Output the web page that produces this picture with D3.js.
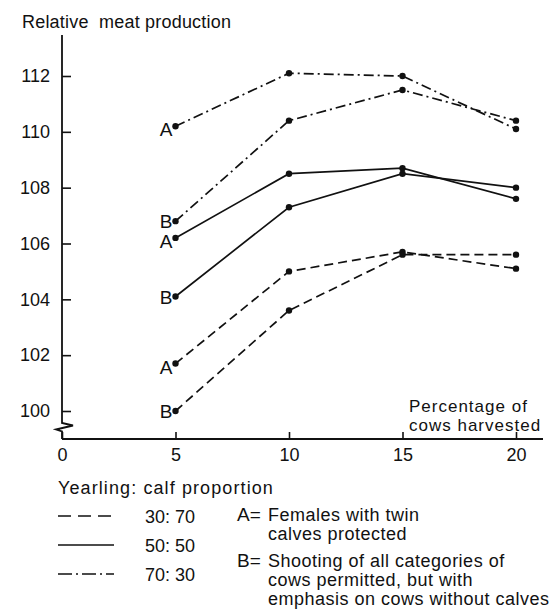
<!DOCTYPE html>
<html>
<head>
<meta charset="utf-8">
<script src="https://cdn.jsdelivr.net/npm/d3@7/dist/d3.min.js"></script>
<style>
  html, body { margin: 0; padding: 0; background: #fff; }
  svg { display: block; }
  text { font-family: "Liberation Sans", Arial, sans-serif; fill: #111; }
</style>
</head>
<body>
<svg id="chart" width="553" height="610"></svg>
<script>
// Percentage of cows harvested
const harvestPct = [5, 10, 15, 20];

// Relative meat production per strategy and yearling:calf proportion
const dashDotA = [110.2, 112.1, 112.0, 110.1];
const dashDotB = [106.8, 110.4, 111.5, 110.4];
const solidA   = [106.2, 108.5, 108.7, 107.6];
const solidB   = [104.1, 107.3, 108.5, 108.0];
const dashedA  = [101.7, 105.0, 105.7, 105.1];
const dashedB  = [100.0, 103.6, 105.6, 105.6];

const yTicks = [100, 102, 104, 106, 108, 110, 112];
const xTicks = [0, 5, 10, 15, 20];

const proportionLabels = ["30: 70", "50: 50", "70: 30"];
const strategyNotes = [
  ["A=", "Females with twin", "calves protected"],
  ["B=", "Shooting of all categories of", "cows permitted, but with", "emphasis on cows without calves"]
];

const dashStyles = { dashed: "9,5", solid: null, dashdot: "10,4,2,4" };

const series = [
  { key: "A", style: "dashdot", values: dashDotA },
  { key: "B", style: "dashdot", values: dashDotB },
  { key: "A", style: "solid",   values: solidA },
  { key: "B", style: "solid",   values: solidB },
  { key: "A", style: "dashed",  values: dashedA },
  { key: "B", style: "dashed",  values: dashedB }
];

const svg = d3.select("#chart");
const ink = "#111";

const x = d3.scaleLinear().domain([0, 20]).range([62, 516]);
const y = d3.scaleLinear().domain([100, 112]).range([411, 76]);
const axisY = 439;

// Y axis title
svg.append("text")
  .attr("x", 22).attr("y", 28)
  .attr("font-size", 18)
  .attr("letter-spacing", 0.2)
  .attr("xml:space", "preserve")
  .text("Relative  meat production");

// Y axis: ticks point inward, labels on the left
const yAxisG = svg.append("g").attr("transform", `translate(${x(0)},0)`)
  .call(d3.axisLeft(y).tickValues(yTicks).tickSizeInner(-9).tickSizeOuter(0).tickPadding(12));
yAxisG.select(".domain").remove();
yAxisG.selectAll(".tick line").attr("stroke", ink).attr("stroke-width", 1.6);
yAxisG.selectAll(".tick text").attr("font-size", 18).attr("font-family", "Liberation Sans, Arial, sans-serif").attr("fill", ink);

// Vertical axis line with a scale break above the origin
const x0 = x(0);
svg.append("path")
  .attr("d", `M${x0},35 L${x0},423 L${x0 + 11},425.5 L${x0 - 6},429.5 L${x0},431.5 L${x0},${axisY}`)
  .attr("fill", "none").attr("stroke", ink).attr("stroke-width", 1.8)
  .attr("stroke-linejoin", "miter");

// X axis: ticks point upward, labels below
const xAxisG = svg.append("g").attr("transform", `translate(0,${axisY})`)
  .call(d3.axisBottom(x).tickValues(xTicks).tickSizeInner(-7).tickSizeOuter(0).tickPadding(9).tickFormat(d3.format("d")));
xAxisG.select(".domain").remove();
xAxisG.selectAll(".tick line").attr("stroke", ink).attr("stroke-width", 1.6);
xAxisG.selectAll(".tick text").attr("font-size", 18).attr("font-family", "Liberation Sans, Arial, sans-serif").attr("fill", ink);

svg.append("line")
  .attr("x1", x0).attr("x2", 543).attr("y1", axisY).attr("y2", axisY)
  .attr("stroke", ink).attr("stroke-width", 1.8);

// X axis title
svg.append("text").attr("x", 409).attr("y", 412).attr("font-size", 17).attr("letter-spacing", 1.0).text("Percentage of");
svg.append("text").attr("x", 409).attr("y", 431).attr("font-size", 17).attr("letter-spacing", 1.0).text("cows harvested");

// Series lines and markers
const line = d3.line().x((d, i) => x(harvestPct[i])).y(d => y(d));

const sg = svg.selectAll("g.series").data(series).join("g").attr("class", "series");
sg.append("path")
  .attr("d", d => line(d.values))
  .attr("fill", "none")
  .attr("stroke", ink)
  .attr("stroke-width", 1.7)
  .attr("stroke-dasharray", d => dashStyles[d.style]);
sg.selectAll("circle").data(d => d.values).join("circle")
  .attr("cx", (d, i) => x(harvestPct[i]))
  .attr("cy", d => y(d))
  .attr("r", 3.2)
  .attr("fill", ink);
sg.append("text")
  .attr("x", x(5) - 3)
  .attr("y", d => y(d.values[0]) + (d.key === "A" ? 10 : 7))
  .attr("text-anchor", "end")
  .attr("font-size", 19)
  .text(d => d.key);

// Legend: line styles
svg.append("text").attr("x", 58).attr("y", 494).attr("font-size", 18).attr("letter-spacing", 1.1)
  .attr("xml:space", "preserve").text("Yearling: calf proportion");

const legendStyles = [
  { style: "dashed", dash: "13,7" },
  { style: "solid", dash: null },
  { style: "dashdot", dash: "14,4,2,4" }
];
const legendRows = [516, 545, 574];
legendStyles.forEach((s, i) => {
  svg.append("line")
    .attr("x1", 58).attr("x2", 114)
    .attr("y1", legendRows[i]).attr("y2", legendRows[i])
    .attr("stroke", ink).attr("stroke-width", 1.7)
    .attr("stroke-dasharray", s.dash);
  svg.append("text").attr("x", 145).attr("y", legendRows[i] + 7)
    .attr("font-size", 18).text(proportionLabels[i]);
});

// Legend: strategy notes
const noteStarts = [521, 567];
strategyNotes.forEach((note, k) => {
  svg.append("text").attr("x", 237).attr("y", noteStarts[k]).attr("font-size", 19).text(note[0]);
  note.slice(1).forEach((ln, j) => {
    svg.append("text").attr("x", 268).attr("y", noteStarts[k] + j * 19)
      .attr("font-size", 18).attr("letter-spacing", 0.5).text(ln);
  });
});
</script>
</body>
</html>
